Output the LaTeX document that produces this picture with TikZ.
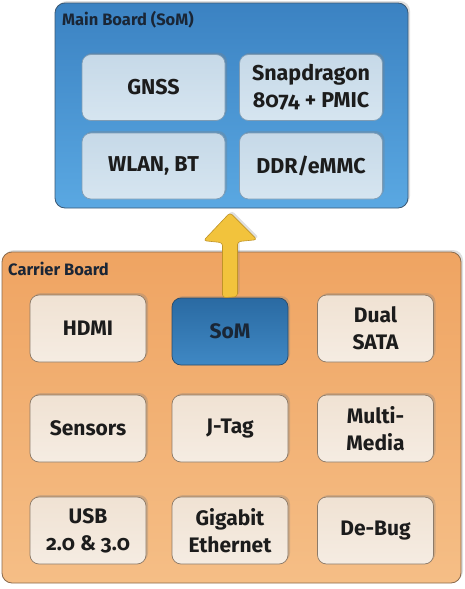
\documentclass[tikz,border=0pt]{standalone}
\usepackage{fontspec}
\setmainfont{Fira Sans}[Numbers=OldStyle]
\usetikzlibrary{shadows,calc}
\definecolor{mbtop}{HTML}{3B82C2}
\definecolor{mbbot}{HTML}{5AA8E2}
\definecolor{mbdraw}{HTML}{3A5874}
\definecolor{mitop}{HTML}{C6D9E8}
\definecolor{mibot}{HTML}{D6E5F0}
\definecolor{midraw}{HTML}{7F9CB4}
\definecolor{cbtop}{HTML}{EFA462}
\definecolor{cbbot}{HTML}{F5BE86}
\definecolor{cbdraw}{HTML}{8A6A4C}
\definecolor{citop}{HTML}{F0E2D3}
\definecolor{cibot}{HTML}{F5ECE2}
\definecolor{cidraw}{HTML}{8C7A68}
\definecolor{somtop}{HTML}{2A6AA2}
\definecolor{sombot}{HTML}{3F88C4}
\definecolor{somdraw}{HTML}{2A4A68}
\definecolor{arrfill}{HTML}{F2C33C}
\definecolor{arrdraw}{HTML}{C09428}
\definecolor{txt}{HTML}{1C1C1C}
\definecolor{lbl}{HTML}{1A2636}
\tikzset{
  board/.style={rounded corners=10pt, line width=0.8pt},
  mainboard/.style={board, draw=mbdraw, top color=mbtop, bottom color=mbbot, drop shadow={shadow xshift=2pt, shadow yshift=2pt, opacity=0.25}},
  carrier/.style={board, draw=cbdraw, top color=cbtop, bottom color=cbbot, drop shadow={shadow xshift=2pt, shadow yshift=2pt, opacity=0.25}},
  mainitem/.style={rectangle, rounded corners=9pt, draw=midraw, line width=0.7pt, top color=mitop, bottom color=mibot,
     minimum width=143pt, minimum height=66pt, align=center, font=\bfseries\fontsize{21.5}{27}\selectfont, text=txt,
     drop shadow={shadow xshift=2pt, shadow yshift=2pt, opacity=0.3}},
  carritem/.style={rectangle, rounded corners=9pt, draw=cidraw, line width=0.7pt, top color=citop, bottom color=cibot,
     minimum width=116pt, minimum height=67pt, align=center, font=\bfseries\fontsize{21}{27}\selectfont, text=txt,
     drop shadow={shadow xshift=2pt, shadow yshift=2pt, opacity=0.3}},
  somitem/.style={carritem, draw=somdraw, top color=somtop, bottom color=sombot, text=lbl},
  boardlabel/.style={anchor=west, font=\bfseries\fontsize{16.5}{20}\selectfont, text=lbl, inner sep=0pt},
  yarrow/.style={rounded corners=3pt, fill=arrfill, draw=arrdraw, line width=0.6pt,
     drop shadow={shadow xshift=2pt, shadow yshift=2pt, opacity=0.25}}
}
\begin{document}
\begin{tikzpicture}[x=1pt,y=-1pt]
\useasboundingbox (0,0) rectangle (465,589);
% boards
\path[mainboard] (55,3) rectangle (408,208);
\node[boardlabel] (mblabel) at (62,20) {Main Board (SoM)};
\path[carrier] (2,252) rectangle (461,583);
\node[boardlabel] (cblabel) at (8,269) {Carrier Board};
% main board items
\node[mainitem] (gnss) at (153.5,87.5) {GNSS};
\node[mainitem] (snap) at (311,87.5) {Snapdragon\\8074 + PMIC};
\node[mainitem] (wlan) at (153.5,166) {WLAN, BT};
\node[mainitem] (ddr) at (311,166) {DDR/eMMC};
% carrier items
\node[carritem] (hdmi) at (88,328.5) {HDMI};
\node[somitem] (som) at (230,331.5) {SoM};
\node[carritem] (sata) at (375.5,328.5) {Dual\\SATA};
\node[carritem] (sens) at (88,428.5) {Sensors};
\node[carritem] (jtag) at (230,428.5) {J-Tag};
\node[carritem] (mm) at (375.5,428.5) {Multi-\\Media};
\node[carritem] (usb) at (88,530.5) {USB\\2.0 \& 3.0};
\node[carritem] (gbe) at (230,530.5) {Gigabit\\Ethernet};
\node[carritem] (dbg) at (375.5,530.5) {De-Bug};
% arrow from SoM up to main board
\coordinate (tip) at ($(som.north)+(0,-85)$);
\path[yarrow] (som.north) ++(-7.5,0) -- ++(0,-55) -- ++(-19,-2) -- (tip) -- ++(27,27) -- ++(-19.5,2) -- ++(0,55) -- cycle;
\end{tikzpicture}
\end{document}
